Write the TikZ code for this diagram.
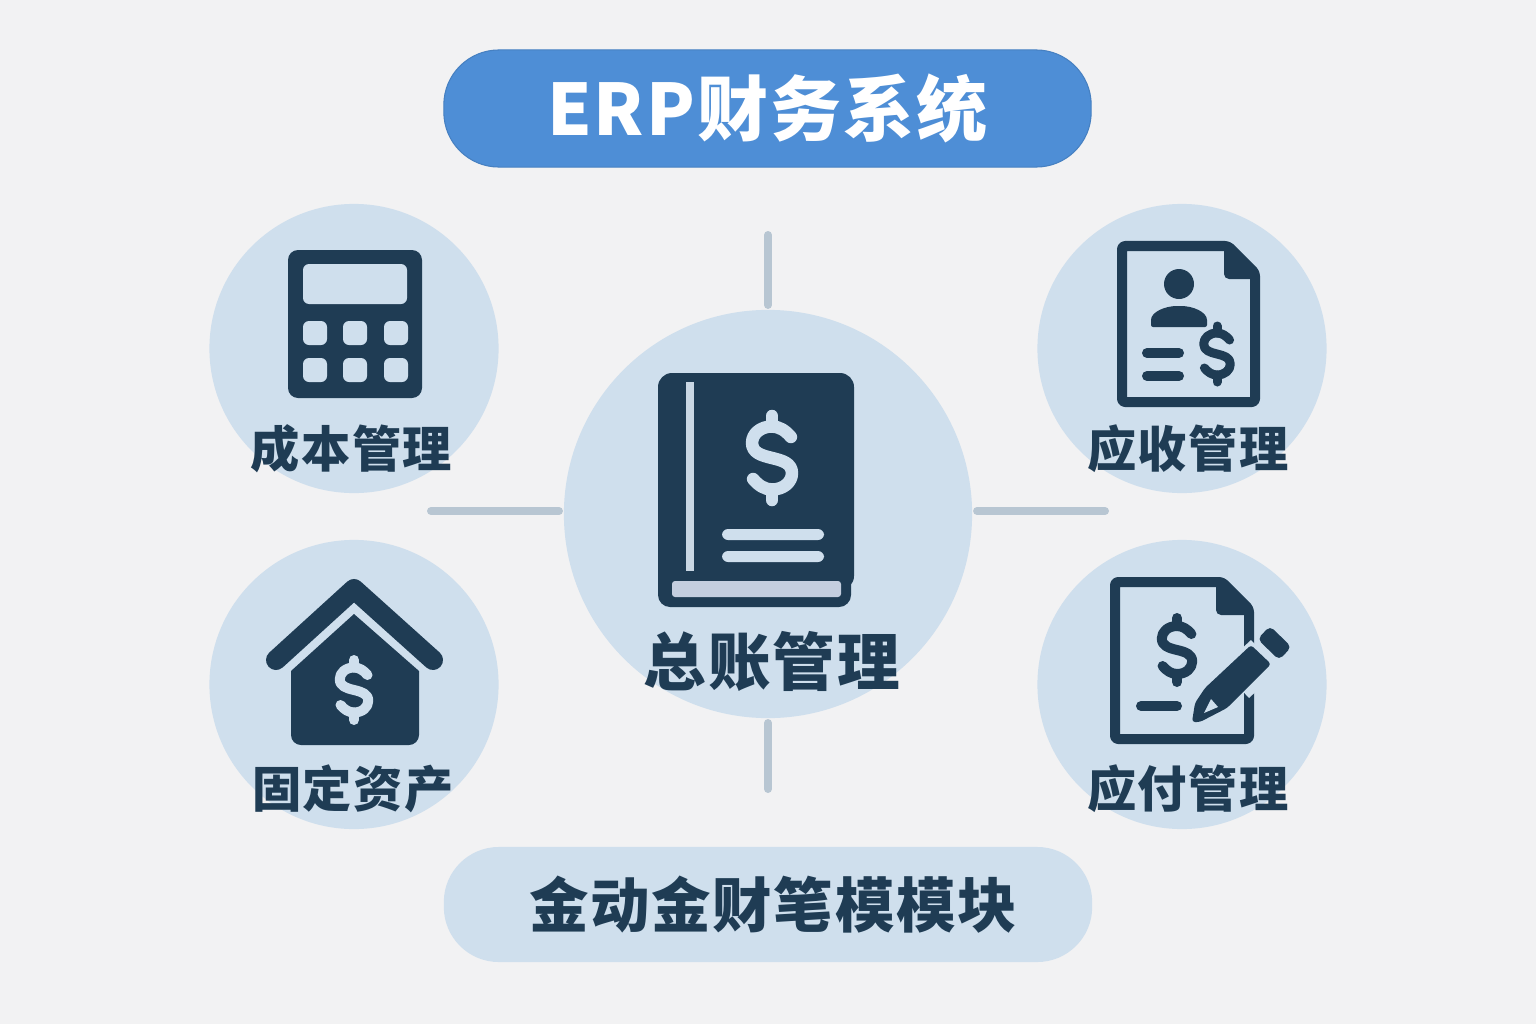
\documentclass[tikz,border=0pt]{standalone}
\usepackage{fontspec}
\setmainfont{Noto Sans CJK SC}[LetterSpace=3]
\usetikzlibrary{arrows.meta, calc}
\definecolor{bgGray}{HTML}{F2F2F3}
\definecolor{bubbleBlue}{HTML}{CFDFED}
\definecolor{inkNavy}{HTML}{1F3C54}
\definecolor{titleBlue}{HTML}{4E8ED6}
\definecolor{spokeGray}{HTML}{B8C6D2}
\definecolor{pageGray}{HTML}{C4CEDF}
\tikzset{
	bubble/.style={circle, fill=bubbleBlue, inner sep=0pt},
	modlabel/.style={text=inkNavy, font=\bfseries\fontsize{14}{14}\selectfont, inner sep=0pt},
	spoke/.style={spokeGray, line width=0.08cm, line cap=round, shorten <=1.2pt},
	iconfill/.style={fill=inkNavy, rounded corners=0.1cm},
	iconline/.style={draw=inkNavy, line width=0.1cm, line join=round, rounded corners=0.03cm},
	iconbar/.style={draw=inkNavy, line width=0.1cm, line cap=round},
	lightkey/.style={fill=bubbleBlue, rounded corners=0.06cm}
}
% dollar sign: position, size, stroke, colour
\newcommand{\dollarmark}[4]{%
	\begin{scope}[shift={#1}, scale=#2]
		\draw[#4, line width=#3, line cap=round, line join=round]
		(0.9,-1.0) .. controls (0.65,-1.3) and (0.35,-1.5) .. (0,-1.5)
		.. controls (-0.55,-1.5) and (-0.95,-1.15) .. (-0.95,-0.72)
		.. controls (-0.95,-0.25) and (-0.5,-0.12) .. (0,0)
		.. controls (0.5,0.12) and (0.95,0.25) .. (0.95,0.72)
		.. controls (0.95,1.15) and (0.55,1.5) .. (0,1.5)
		.. controls (-0.35,1.5) and (-0.65,1.3) .. (-0.9,1.0);
		\draw[#4, line width=#3, line cap=round] (0,-2) -- (0,-1.5);
		\draw[#4, line width=#3, line cap=round] (0,1.5) -- (0,2);
	\end{scope}}

\begin{document}
\begin{tikzpicture}[x=0.01cm, y=-0.01cm]

\fill[bgGray] (0,0) rectangle (1536,1024);
\useasboundingbox (0,0) rectangle (1536,1024);

%========================
% Pills
%========================
\node[rounded corners=0.55cm, draw=titleBlue!90!black, line width=0.3pt, fill=titleBlue,
	minimum width=6.47cm, minimum height=1.17cm, inner sep=0pt,
	text=white, font=\bfseries\fontsize{20.2}{20.2}\selectfont]
	(titlePill) at (767.5,108.5) {ERP财务系统};
\node[rounded corners=0.55cm, fill=bubbleBlue,
	minimum width=6.48cm, minimum height=1.15cm, inner sep=0pt,
	text=inkNavy, font=\bfseries\fontsize{16.9}{16.9}\selectfont]
	(footPill) at (768,904.5) {\hspace*{0.1cm}金动金财笔模模块};

%========================
% Hub and spokes
%========================
\node[bubble, minimum size=4.08cm] (hubBubble) at (768,514) {};
\coordinate (spokeTop) at (768,235);
\coordinate (spokeBottom) at (768,789);
\coordinate (spokeLeft) at (431,511);
\coordinate (spokeRight) at (1105,511);
\draw[spoke] (hubBubble.north) -- (spokeTop);
\draw[spoke] (hubBubble.south) -- (spokeBottom);
\draw[spoke] (spokeLeft -| hubBubble.west) -- (spokeLeft);
\draw[spoke] (spokeRight -| hubBubble.east) -- (spokeRight);

% book
\fill[inkNavy, rounded corners=0.14cm] (658,373) rectangle (854,590);
\fill[inkNavy, rounded corners=0.12cm] (658,560) rectangle (851,607);
\fill[bubbleBlue!92!gray] (686,382) rectangle (694,571);
\fill[lightkey] (722,529) rectangle (824,540);
\fill[lightkey] (722,551) rectangle (824,562);
\fill[pageGray, rounded corners=0.03cm] (672,581) rectangle (841,597);
\dollarmark{(772,458)}{21}{0.125cm}{bubbleBlue}
\node[modlabel, font=\bfseries\fontsize{17.8}{17.8}\selectfont] (hubLabel) at (772,661) {总账管理};

%========================
% Left: cost and assets
%========================
\node[bubble, minimum size=2.89cm] (costBubble) at (354,348.5) {};
\node[modlabel] (costLabel) at (351.5,449) {成本管理};
% calculator
\fill[iconfill] (288,250) rectangle (422,398);
\fill[lightkey] (303,264) rectangle (407,304);
\foreach \kx in {315,355,396}
	\foreach \ky in {333,370}
		\fill[lightkey] (\kx-12,\ky-12) rectangle (\kx+12,\ky+12);

\node[bubble, minimum size=2.89cm] (assetBubble) at (354,684.5) {};
\node[modlabel] (assetLabel) at (353,789) {固定资产};
% house
\draw[inkNavy, line width=0.2cm, line cap=round, line join=round]
	(276,660) -- (354,589) -- (433,660);
\fill[inkNavy] (354,614) -- (419,671) [rounded corners=0.1cm] -- (419,745) -- (291,745) [sharp corners] -- (291,671) -- cycle;
\dollarmark{(354,690)}{15}{0.1cm}{bubbleBlue}

%========================
% Right: receivable and payable
%========================
\node[bubble, minimum size=2.89cm] (recvBubble) at (1182,348.5) {};
\node[modlabel] (recvLabel) at (1188,449) {应收管理};
% document with person
\draw[iconline] (1122,246) -- (1228,246) -- (1255,273) -- (1255,402) -- (1122,402) -- cycle;
\fill[inkNavy, rounded corners=0.05cm] (1224,246) -- (1228,246) -- (1255,273) -- (1255,279) -- (1224,279) -- cycle;
\fill[inkNavy] (1179,284) circle (15);
\fill[inkNavy, rounded corners=0.02cm] (1151,327) -- (1151,322) .. controls (1151,312) and (1165,306) .. (1179,306)
	.. controls (1193,306) and (1207,312) .. (1207,322) -- (1207,327) -- cycle;
\draw[iconbar] (1147,353) -- (1179,353);
\draw[iconbar] (1147,376) -- (1179,376);
\dollarmark{(1217,354)}{14}{0.09cm}{inkNavy}

\node[bubble, minimum size=2.89cm] (payBubble) at (1182,684.5) {};
\node[modlabel] (payLabel) at (1188,789) {应付管理};
% document with pen
\draw[iconline] (1115,582) -- (1222,582) -- (1249,609) -- (1249,739) -- (1115,739) -- cycle;
\fill[inkNavy, rounded corners=0.05cm] (1216,582) -- (1222,582) -- (1249,609) -- (1249,615) -- (1216,615) -- cycle;
\draw[bubbleBlue, line width=0.41cm] (1235,683) -- (1265,655);
\dollarmark{(1177,650)}{16}{0.1cm}{inkNavy}
\draw[iconbar] (1141,706) -- (1177,706);
\fill[inkNavy, rounded corners=0.03cm] (1251,645) -- (1271,664) -- (1227,708) -- (1200,722) -- (1192,722) -- (1195,703) -- (1205,688) -- cycle;
\fill[bubbleBlue] (1211,699) -- (1204,713) -- (1218,707) -- cycle;
\fill[inkNavy, rounded corners=0.05cm] (1270,626) -- (1291.5,647) -- (1279,660) -- (1257.5,639) -- cycle;

\end{tikzpicture}
\end{document}
